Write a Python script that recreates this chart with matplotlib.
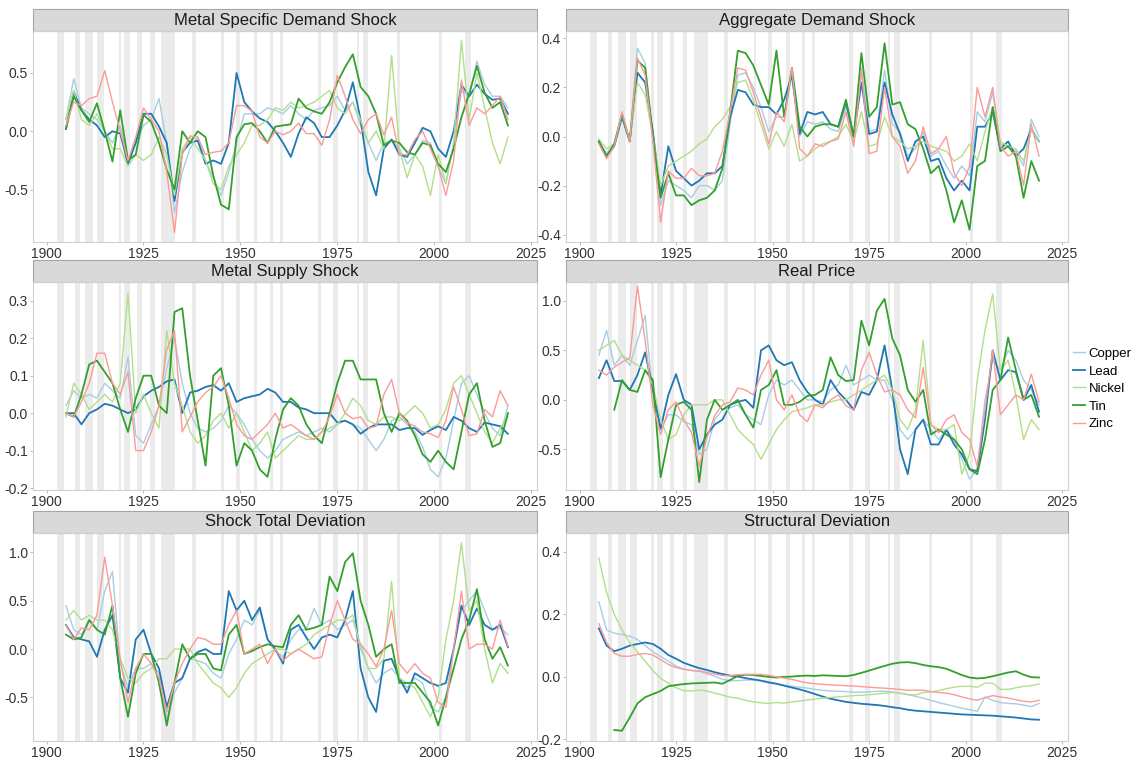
import numpy as np
import matplotlib
matplotlib.use("Agg")
import matplotlib.pyplot as plt
from matplotlib.patches import Rectangle

plt.rcParams['font.family'] = ['Liberation Sans', 'DejaVu Sans']
plt.rcParams['axes.unicode_minus'] = False

YEARS = np.arange(1905, 2020, 2)
METALS = ["Copper", "Lead", "Nickel", "Tin", "Zinc"]
COLORS = ["#A6CEE3", "#1F78B4", "#B2DF8A", "#33A02C", "#FB9A99"]
WIDTHS = [1.0, 1.3, 1.0, 1.3, 1.0]

# NBER recession dates (fractional years)
RECESSIONS = [(1902.7, 1904.6), (1907.4, 1908.5), (1910.0, 1912.0), (1913.0, 1914.9),
              (1918.6, 1919.2), (1920.0, 1921.5), (1923.4, 1924.5), (1926.8, 1927.9),
              (1929.6, 1933.2), (1937.4, 1938.5), (1945.1, 1945.8), (1948.9, 1949.8),
              (1953.5, 1954.4), (1957.6, 1958.3), (1960.3, 1961.1), (1969.9, 1970.9),
              (1973.9, 1975.2), (1980.0, 1980.5), (1981.5, 1982.9), (1990.5, 1991.2),
              (2001.2, 2001.9), (2007.9, 2009.5)]

# Metal specific demand shock
msds_copper = [0.10, 0.45, 0.20, 0.15, 0.10, 0.00, -0.10, 0.05, -0.25, -0.10,
               0.05, 0.10, 0.28, -0.10, -0.70, -0.35, -0.15, -0.05, -0.25, -0.40,
               -0.55, -0.35, -0.10, 0.15, 0.15, 0.15, 0.20, 0.18, 0.15, 0.22,
               0.15, 0.10, 0.18, 0.20, 0.22, 0.30, 0.18, 0.25, 0.05, -0.10,
               -0.25, -0.10, -0.08, -0.15, -0.28, -0.20, -0.08, -0.10, -0.30, -0.45,
               -0.10, 0.35, 0.30, 0.60, 0.40, 0.30, 0.30, 0.20]
msds_lead = [0.02, 0.34, 0.18, 0.10, 0.05, -0.05, 0.00, -0.02, -0.28, -0.10,
             0.15, 0.15, 0.04, -0.10, -0.60, -0.18, -0.10, -0.08, -0.28, -0.25,
             -0.28, -0.10, 0.50, 0.25, 0.17, 0.11, 0.08, 0.00, -0.10, -0.22,
             -0.02, 0.12, 0.07, -0.05, -0.05, 0.05, 0.18, 0.42, 0.10, -0.35,
             -0.55, -0.15, -0.07, -0.20, -0.22, -0.10, 0.03, 0.00, -0.15, -0.22,
             0.00, 0.40, 0.30, 0.40, 0.32, 0.27, 0.28, 0.15]
msds_nickel = [0.10, 0.35, 0.10, 0.05, 0.15, 0.00, -0.15, -0.15, -0.30, -0.20,
               -0.25, -0.20, -0.05, -0.20, -0.55, -0.15, -0.05, -0.15, -0.25, -0.45,
               -0.50, -0.30, -0.20, -0.10, 0.05, 0.05, 0.10, 0.20, 0.18, 0.25,
               0.20, 0.22, 0.25, 0.30, 0.35, 0.20, 0.15, 0.25, 0.10, -0.10,
               0.00, -0.15, 0.65, -0.15, -0.40, -0.20, -0.30, -0.55, -0.20, -0.45,
               -0.10, 0.78, 0.10, 0.50, 0.20, -0.10, -0.28, -0.05]
msds_tin = [0.02, 0.30, 0.18, 0.08, 0.24, 0.00, -0.26, 0.18, -0.25, -0.20,
            0.14, 0.08, -0.10, -0.33, -0.50, 0.00, -0.10, 0.00, -0.05, -0.38,
            -0.63, -0.67, -0.05, 0.06, 0.07, 0.00, -0.10, 0.04, 0.05, 0.06,
            0.28, 0.20, 0.17, 0.15, 0.25, 0.42, 0.55, 0.66, 0.38, 0.30,
            0.15, -0.12, -0.08, -0.10, -0.18, -0.20, -0.10, -0.12, -0.28, -0.35,
            -0.15, 0.12, 0.32, 0.56, 0.33, 0.20, 0.25, 0.05]
msds_zinc = [0.05, 0.25, 0.22, 0.28, 0.30, 0.52, 0.25, 0.00, -0.25, -0.05,
             0.20, 0.10, 0.00, -0.35, -0.87, -0.20, -0.04, -0.05, -0.20, -0.18,
             -0.17, -0.10, 0.22, 0.22, 0.17, -0.05, -0.10, 0.00, -0.03, 0.00,
             0.07, -0.02, -0.02, -0.12, 0.10, 0.48, 0.30, 0.10, -0.02, 0.10,
             0.15, -0.03, 0.12, -0.20, -0.20, -0.07, 0.00, -0.15, -0.30, -0.55,
             -0.25, 0.44, 0.05, 0.20, 0.15, 0.22, 0.30, 0.10]

# Aggregate demand shock
ads_copper = [-0.02, -0.07, -0.03, 0.10, -0.02, 0.36, 0.30, 0.00, -0.28, -0.18,
              -0.20, -0.22, -0.25, -0.20, -0.20, -0.22, -0.18, 0.05, 0.25, 0.26,
              0.20, 0.12, 0.02, 0.08, 0.08, 0.25, 0.00, 0.06, 0.05, 0.06,
              0.03, 0.02, 0.12, -0.02, 0.28, 0.02, 0.03, 0.27, 0.05, 0.02,
              -0.08, -0.05, 0.02, -0.08, -0.06, -0.12, -0.17, -0.12, -0.16, 0.10,
              0.06, 0.18, -0.03, -0.04, -0.06, -0.12, 0.07, 0.00]
ads_lead = [-0.02, -0.08, -0.04, 0.08, -0.02, 0.26, 0.22, 0.02, -0.24, -0.04,
            -0.14, -0.17, -0.20, -0.18, -0.15, -0.15, -0.12, 0.08, 0.19, 0.18,
            0.13, 0.12, 0.12, 0.09, 0.15, 0.25, 0.01, 0.10, 0.09, 0.10,
            0.05, 0.04, 0.14, 0.00, 0.22, 0.01, 0.02, 0.22, 0.09, 0.01,
            -0.10, -0.02, 0.00, -0.10, -0.09, -0.17, -0.22, -0.18, -0.22, 0.04,
            0.04, 0.10, -0.05, -0.02, -0.08, -0.05, 0.03, -0.02]
ads_nickel = [-0.01, -0.05, -0.03, 0.09, -0.02, 0.22, 0.17, 0.00, -0.20, -0.12,
              -0.10, -0.08, -0.06, -0.03, -0.01, 0.04, 0.07, 0.12, 0.22, 0.23,
              0.15, 0.05, -0.05, 0.02, -0.04, 0.05, -0.10, -0.08, -0.05, -0.03,
              -0.02, 0.00, 0.05, -0.02, 0.10, -0.04, -0.03, 0.08, 0.00, -0.02,
              -0.05, -0.04, -0.02, -0.04, -0.05, -0.06, -0.10, -0.08, -0.03, -0.10,
              0.02, 0.12, -0.02, -0.04, -0.05, -0.10, 0.03, -0.02]
ads_tin = [-0.02, -0.08, -0.03, 0.09, -0.02, 0.31, 0.28, 0.00, -0.25, -0.15,
           -0.24, -0.24, -0.28, -0.26, -0.25, -0.22, -0.13, 0.10, 0.35, 0.34,
           0.29, 0.21, 0.13, 0.35, 0.08, 0.28, 0.04, 0.00, 0.04, 0.05,
           0.05, 0.04, 0.15, 0.00, 0.34, 0.08, 0.12, 0.38, 0.13, 0.14,
           0.05, 0.03, -0.05, -0.15, -0.12, -0.22, -0.35, -0.26, -0.38, -0.12,
           -0.10, 0.12, -0.06, -0.04, -0.08, -0.25, -0.10, -0.18]
ads_zinc = [-0.03, -0.09, -0.04, 0.10, -0.02, 0.32, 0.25, -0.02, -0.35, -0.14,
            -0.17, -0.17, -0.13, -0.16, -0.16, -0.15, -0.06, 0.10, 0.28, 0.27,
            0.18, 0.08, -0.03, 0.10, 0.06, 0.28, -0.05, -0.08, -0.03, -0.04,
            -0.02, -0.01, 0.10, -0.04, 0.27, -0.07, -0.06, 0.20, 0.00, -0.04,
            -0.15, -0.10, 0.04, -0.07, -0.05, 0.00, -0.15, -0.20, -0.12, 0.20,
            0.08, 0.20, -0.04, -0.08, -0.06, -0.20, 0.05, -0.08]

# Metal supply shock
mss_copper = [0.02, 0.06, 0.04, 0.05, 0.04, 0.08, 0.06, 0.04, 0.15, -0.06,
              -0.08, -0.03, 0.02, 0.12, 0.20, 0.08, 0.00, -0.04, -0.05, -0.04,
              -0.02, 0.02, 0.00, -0.03, -0.07, -0.10, -0.12, -0.10, -0.07, -0.06,
              -0.05, -0.06, -0.05, -0.04, -0.05, -0.03, -0.02, -0.03, -0.04, -0.07,
              -0.10, -0.07, -0.02, -0.01, -0.03, -0.05, -0.09, -0.15, -0.17, -0.12,
              -0.02, 0.08, 0.10, 0.05, 0.00, -0.04, -0.06, 0.02]
mss_lead = [0.00, 0.00, -0.03, 0.00, 0.01, 0.025, 0.02, 0.01, 0.00, 0.01,
            0.045, 0.06, 0.07, 0.085, 0.09, 0.00, 0.055, 0.06, 0.07, 0.075,
            0.06, 0.08, 0.03, 0.04, 0.045, 0.05, 0.065, 0.055, 0.03, 0.03,
            0.015, 0.01, 0.00, 0.00, 0.00, -0.025, -0.02, -0.03, -0.055, -0.04,
            -0.03, -0.03, -0.03, -0.045, -0.04, -0.04, -0.058, -0.045, -0.035, -0.045,
            -0.01, -0.02, -0.04, -0.05, -0.025, -0.03, -0.035, -0.055]
mss_nickel = [-0.01, 0.08, 0.05, 0.01, 0.03, 0.05, 0.03, 0.08, 0.32, 0.00,
              0.05, 0.00, -0.04, 0.22, 0.08, 0.02, -0.05, -0.08, -0.06, -0.02,
              0.00, -0.04, 0.00, -0.05, -0.10, -0.08, -0.05, -0.12, -0.10, -0.08,
              -0.06, -0.07, -0.07, -0.05, -0.04, -0.03, 0.00, 0.04, 0.02, -0.02,
              -0.03, -0.01, -0.01, -0.02, 0.00, 0.02, 0.00, -0.04, -0.03, 0.01,
              0.08, 0.10, 0.05, 0.00, -0.05, -0.08, -0.04, -0.01]
mss_tin = [0.00, -0.01, 0.05, 0.13, 0.14, 0.11, 0.08, 0.01, -0.05, 0.04,
           0.10, 0.10, 0.02, 0.00, 0.27, 0.28, 0.10, -0.02, -0.14, 0.10,
           0.12, 0.02, -0.14, -0.08, -0.10, -0.15, -0.17, -0.07, 0.01, 0.04,
           0.02, -0.03, -0.06, -0.08, 0.00, 0.08, 0.14, 0.14, 0.09, 0.09,
           0.09, 0.00, -0.05, 0.00, -0.02, -0.06, -0.11, -0.13, -0.10, -0.13,
           -0.15, -0.05, 0.05, 0.08, -0.02, -0.09, -0.08, 0.00]
mss_zinc = [0.00, -0.01, 0.03, 0.08, 0.16, 0.16, 0.08, 0.05, 0.11, -0.10,
            -0.10, -0.05, 0.02, 0.17, 0.22, -0.05, -0.01, 0.03, 0.055, 0.07,
            0.10, 0.04, -0.03, -0.06, -0.07, -0.05, -0.03, 0.00, -0.04, -0.03,
            -0.045, -0.06, -0.07, -0.05, -0.01, 0.05, 0.00, -0.015, -0.01, -0.04,
            -0.035, 0.05, 0.09, 0.00, -0.025, -0.035, -0.05, -0.055, -0.065, -0.02,
            0.07, 0.01, -0.06, -0.055, 0.01, -0.01, 0.06, 0.02]

# Real price
rp_copper = [0.45, 0.70, 0.35, 0.45, 0.35, 0.60, 0.85, 0.05, -0.30, -0.15,
             -0.15, -0.22, -0.25, -0.55, -0.50, -0.20, -0.10, -0.08, -0.05, -0.15,
             -0.20, -0.25, 0.05, 0.20, 0.15, 0.20, 0.10, 0.00, 0.00, -0.02,
             0.10, 0.15, 0.35, 0.15, 0.20, 0.25, 0.20, 0.20, 0.00, -0.30,
             -0.40, -0.30, -0.20, -0.30, -0.40, -0.30, -0.40, -0.60, -0.80, -0.70,
             0.00, 0.40, 0.30, 0.50, 0.40, 0.20, 0.10, -0.05]
rp_lead = [0.22, 0.40, 0.19, 0.19, 0.10, 0.25, 0.48, 0.10, -0.29, 0.05,
           0.26, 0.00, -0.05, -0.50, -0.35, -0.25, -0.20, -0.05, -0.02, 0.00,
           -0.08, 0.50, 0.55, 0.40, 0.35, 0.38, 0.20, 0.08, 0.00, -0.05,
           0.20, 0.08, 0.00, -0.10, 0.08, 0.05, 0.20, 0.55, 0.10, -0.50,
           -0.75, -0.30, -0.20, -0.45, -0.45, -0.30, -0.45, -0.55, -0.70, -0.72,
           -0.20, 0.50, 0.20, 0.30, 0.28, 0.00, 0.15, -0.12]
rp_nickel = [0.50, 0.55, 0.60, 0.45, 0.40, 0.35, 0.30, 0.15, -0.20, -0.40,
             -0.35, -0.15, -0.05, -0.05, -0.05, 0.00, 0.00, -0.15, -0.30, -0.38,
             -0.45, -0.60, -0.45, -0.30, -0.20, -0.12, -0.10, -0.08, -0.05, -0.05,
             -0.02, 0.00, 0.00, 0.05, 0.10, 0.15, 0.20, 0.25, 0.10, -0.20,
             -0.30, -0.10, 0.60, -0.25, -0.30, -0.30, -0.25, -0.75, -0.55, 0.20,
             0.70, 1.07, 0.30, 0.40, 0.05, -0.40, -0.20, -0.30]
rp_tin = [np.nan, np.nan, -0.10, 0.20, 0.10, 0.08, 0.30, 0.20, -0.78, -0.40,
          -0.05, -0.02, -0.10, -0.83, -0.20, 0.00, -0.10, -0.05, 0.00, -0.15,
          -0.28, 0.10, 0.15, 0.30, -0.05, -0.05, -0.02, 0.04, 0.05, 0.10,
          0.43, 0.25, 0.19, 0.20, 0.80, 0.55, 0.90, 1.02, 0.62, 0.45,
          0.10, -0.02, 0.10, -0.35, -0.30, -0.35, -0.40, -0.50, -0.70, -0.75,
          -0.40, 0.10, 0.20, 0.63, 0.30, 0.00, 0.05, -0.17]
rp_zinc = [0.30, 0.25, 0.33, 0.38, 0.42, 1.15, 0.60, -0.05, -0.35, -0.10,
           -0.02, -0.20, -0.33, -0.67, -0.38, -0.16, -0.05, -0.02, 0.12, 0.10,
           0.05, 0.25, 0.40, 0.00, -0.10, 0.05, -0.15, -0.22, -0.05, -0.08,
           0.00, 0.05, -0.06, -0.10, 0.30, 0.48, 0.25, 0.08, 0.10, 0.05,
           -0.10, -0.18, 0.33, -0.25, -0.33, -0.20, -0.15, -0.33, -0.40, -0.67,
           -0.10, 0.50, -0.15, -0.05, 0.05, 0.00, 0.26, -0.02]

# Shock total deviation
std_copper = [0.45, 0.20, 0.15, 0.30, 0.20, 0.60, 0.80, -0.15, -0.40, -0.20,
              -0.20, -0.15, -0.25, -0.72, -0.45, -0.30, -0.10, -0.12, -0.15, -0.25,
              -0.30, -0.05, 0.10, 0.30, 0.25, 0.40, 0.10, -0.02, -0.08, 0.10,
              0.20, 0.20, 0.42, 0.25, 0.30, 0.20, 0.25, 0.30, 0.05, -0.20,
              -0.35, -0.25, -0.20, -0.30, -0.40, -0.30, -0.35, -0.60, -0.65, -0.50,
              0.00, 0.40, 0.50, 0.60, 0.40, 0.20, 0.22, 0.15]
std_lead = [0.25, 0.12, 0.10, 0.08, -0.08, 0.20, 0.35, -0.30, -0.45, 0.10,
            0.20, -0.05, -0.20, -0.60, -0.35, -0.30, -0.10, -0.03, 0.00, -0.05,
            -0.05, 0.60, 0.40, 0.50, 0.30, 0.43, 0.10, 0.00, -0.15, 0.20,
            0.25, 0.12, 0.00, 0.12, 0.15, 0.12, 0.30, 0.60, -0.20, -0.50,
            -0.65, -0.12, -0.10, -0.30, -0.45, -0.25, -0.30, -0.35, -0.38, -0.35,
            0.00, 0.45, 0.25, 0.42, 0.25, 0.20, 0.25, 0.02]
std_nickel = [0.30, 0.40, 0.30, 0.35, 0.30, 0.30, 0.20, -0.10, -0.30, -0.35,
              -0.25, -0.20, -0.10, -0.10, 0.00, 0.00, 0.00, -0.15, -0.25, -0.35,
              -0.40, -0.50, -0.40, -0.25, -0.15, -0.10, -0.05, 0.00, 0.00, -0.05,
              0.00, 0.05, 0.15, 0.20, 0.25, 0.30, 0.30, 0.35, 0.00, -0.20,
              -0.20, -0.10, 0.70, -0.30, -0.35, -0.40, -0.55, -0.70, -0.50, 0.10,
              0.50, 1.10, 0.40, 0.50, 0.00, -0.35, -0.15, -0.25]
std_tin = [0.15, 0.10, 0.12, 0.30, 0.20, 0.15, 0.45, -0.30, -0.70, -0.25,
           -0.05, -0.05, -0.35, -0.79, -0.35, 0.05, -0.10, -0.05, -0.05, -0.20,
           -0.22, 0.15, 0.25, -0.05, -0.02, 0.02, 0.05, 0.03, 0.02, 0.25,
           0.35, 0.20, 0.22, 0.25, 0.75, 0.60, 0.90, 0.99, 0.50, 0.25,
           -0.08, 0.00, 0.05, -0.35, -0.35, -0.35, -0.45, -0.55, -0.79, -0.50,
           -0.20, 0.10, 0.30, 0.62, 0.10, -0.10, 0.02, -0.17]
std_zinc = [0.25, 0.10, 0.22, 0.20, 0.35, 0.95, 0.45, -0.10, -0.55, -0.20,
            -0.05, -0.15, -0.30, -0.65, -0.35, -0.15, 0.00, 0.12, 0.10, 0.05,
            0.05, 0.25, 0.40, -0.05, 0.00, 0.05, -0.15, 0.00, -0.12, -0.05,
            0.00, -0.05, -0.10, -0.08, 0.25, 0.50, 0.30, 0.10, 0.05, -0.05,
            -0.18, 0.00, 0.40, -0.15, -0.25, -0.15, -0.25, -0.30, -0.55, -0.60,
            0.00, 0.60, 0.00, 0.05, 0.05, 0.00, 0.30, 0.03]

# Structural deviation
sd_copper = [0.24, 0.15, 0.14, 0.135, 0.13, 0.12, 0.10, 0.08, 0.065, 0.05,
             0.035, 0.025, 0.02, 0.018, 0.01, 0.002, -0.008, -0.012, -0.012, -0.01,
             -0.01, -0.012, -0.015, -0.022, -0.027, -0.03, -0.033, -0.036, -0.04, -0.043,
             -0.045, -0.046, -0.047, -0.049, -0.049, -0.048, -0.046, -0.046, -0.048, -0.052,
             -0.057, -0.062, -0.068, -0.075, -0.082, -0.088, -0.094, -0.10, -0.105, -0.11,
             -0.065, -0.075, -0.082, -0.085, -0.086, -0.09, -0.095, -0.085]
sd_lead = [0.155, 0.10, 0.082, 0.09, 0.10, 0.105, 0.11, 0.105, 0.09, 0.07,
           0.058, 0.045, 0.036, 0.028, 0.022, 0.015, 0.009, 0.004, 0.001, -0.004,
           -0.008, -0.012, -0.018, -0.022, -0.028, -0.034, -0.04, -0.047, -0.055, -0.063,
           -0.07, -0.075, -0.08, -0.083, -0.086, -0.088, -0.09, -0.093, -0.097, -0.10,
           -0.105, -0.108, -0.11, -0.112, -0.114, -0.116, -0.118, -0.12, -0.121, -0.122,
           -0.123, -0.124, -0.126, -0.128, -0.13, -0.133, -0.136, -0.137]
sd_nickel = [0.38, 0.27, 0.20, 0.15, 0.11, 0.08, 0.05, 0.02, -0.005, -0.02,
             -0.035, -0.044, -0.045, -0.042, -0.045, -0.052, -0.058, -0.065, -0.068, -0.075,
             -0.08, -0.083, -0.085, -0.082, -0.084, -0.08, -0.077, -0.074, -0.071, -0.068,
             -0.066, -0.064, -0.062, -0.06, -0.059, -0.057, -0.055, -0.052, -0.05, -0.052,
             -0.056, -0.058, -0.05, -0.048, -0.044, -0.038, -0.033, -0.03, -0.03, -0.033,
             -0.02, -0.02, -0.04, -0.04, -0.035, -0.03, -0.028, -0.023]
sd_tin = [np.nan, np.nan, -0.17, -0.172, -0.13, -0.085, -0.065, -0.055, -0.045, -0.03,
          -0.026, -0.023, -0.021, -0.02, -0.019, -0.018, -0.022, -0.01, 0.003, 0.007,
          0.006, 0.003, 0.0, -0.002, 0.0, 0.001, 0.003, 0.004, 0.003, 0.005,
          0.004, 0.003, 0.002, 0.006, 0.013, 0.02, 0.028, 0.035, 0.042, 0.046,
          0.047, 0.044, 0.038, 0.034, 0.031, 0.026, 0.016, 0.006, -0.002, -0.005,
          -0.003, 0.002, 0.008, 0.014, 0.018, 0.007, -0.001, -0.002]
sd_zinc = [0.17, 0.11, 0.075, 0.066, 0.066, 0.072, 0.075, 0.07, 0.055, 0.04,
           0.03, 0.024, 0.021, 0.019, 0.014, 0.009, 0.004, 0.004, 0.007, 0.008,
           0.008, 0.008, 0.005, 0.0, -0.004, -0.008, -0.014, -0.019, -0.022, -0.024,
           -0.026, -0.027, -0.028, -0.029, -0.031, -0.033, -0.035, -0.036, -0.038, -0.04,
           -0.043, -0.042, -0.043, -0.047, -0.05, -0.052, -0.057, -0.064, -0.07, -0.075,
           -0.066, -0.06, -0.064, -0.068, -0.073, -0.078, -0.08, -0.075]

PANELS = [
    ("Metal Specific Demand Shock",
     [msds_copper, msds_lead, msds_nickel, msds_tin, msds_zinc],
     [-0.5, 0.0, 0.5], (-0.95, 0.86)),
    ("Aggregate Demand Shock",
     [ads_copper, ads_lead, ads_nickel, ads_tin, ads_zinc],
     [-0.4, -0.2, 0.0, 0.2, 0.4], (-0.43, 0.43)),
    ("Metal Supply Shock",
     [mss_copper, mss_lead, mss_nickel, mss_tin, mss_zinc],
     [-0.2, -0.1, 0.0, 0.1, 0.2, 0.3], (-0.205, 0.35)),
    ("Real Price",
     [rp_copper, rp_lead, rp_nickel, rp_tin, rp_zinc],
     [-0.5, 0.0, 0.5, 1.0], (-0.91, 1.19)),
    ("Shock Total Deviation",
     [std_copper, std_lead, std_nickel, std_tin, std_zinc],
     [-0.5, 0.0, 0.5, 1.0], (-0.95, 1.2)),
    ("Structural Deviation",
     [sd_copper, sd_lead, sd_nickel, sd_tin, sd_zinc],
     [-0.2, 0.0, 0.2, 0.4], (-0.205, 0.46)),
]

W, H = 1144, 761
fig = plt.figure(figsize=(W / 100, H / 100), dpi=100)

# panel boxes in pixels: (left, right) and (top, bottom)
col_x = [(33, 537), (566, 1068)]
row_y = [(31, 242), (282, 490), (533, 741)]
STRIP_PX = 22

handles = []
for i, (title, series, yticks, ylim) in enumerate(PANELS):
    r, c = divmod(i, 2)
    x0, x1 = col_x[c]
    y0, y1 = row_y[r]
    ax = fig.add_axes([x0 / W, 1 - y1 / H, (x1 - x0) / W, (y1 - y0) / H])

    for a, b in RECESSIONS:
        ax.axvspan(a, b, color="#d4d4d4", alpha=0.45, lw=0, zorder=0)

    for name, vals, col, lw in zip(METALS, series, COLORS, WIDTHS):
        ln, = ax.plot(YEARS, vals, color=col, lw=lw, label=name, zorder=2,
                      solid_joinstyle="round")
        if i == 0:
            handles.append(ln)

    ax.set_xlim(1896.5, 2026.5)
    ax.set_ylim(*ylim)
    ax.set_xticks([1900, 1925, 1950, 1975, 2000, 2025])
    ax.set_yticks(yticks)
    ax.set_yticklabels([f"{t:.1f}" for t in yticks])
    ax.tick_params(labelsize=10, labelcolor="#333333", color="#b0b0b0",
                   length=2, width=0.6, pad=1.5)
    for sp in ax.spines.values():
        sp.set_color("#d0d0d0")
        sp.set_linewidth(0.8)

    sh = STRIP_PX / (y1 - y0)
    ax.add_patch(Rectangle((0, 1), 1, sh, transform=ax.transAxes, clip_on=False,
                           facecolor="#d9d9d9", edgecolor="#a6a6a6", lw=0.8))
    ax.text(0.5, 1 + sh / 2, title, transform=ax.transAxes, ha="center",
            va="center", fontsize=12, color="#1a1a1a")

fig.legend(handles=handles, labels=METALS, loc="center left",
           bbox_to_anchor=(1070 / W, 1 - 389 / H), frameon=False, fontsize=9.5,
           handlelength=0.9, handletextpad=0.3, labelspacing=0.4,
           borderpad=0.1, borderaxespad=0.1)

fig.savefig("out.png", dpi=100)
